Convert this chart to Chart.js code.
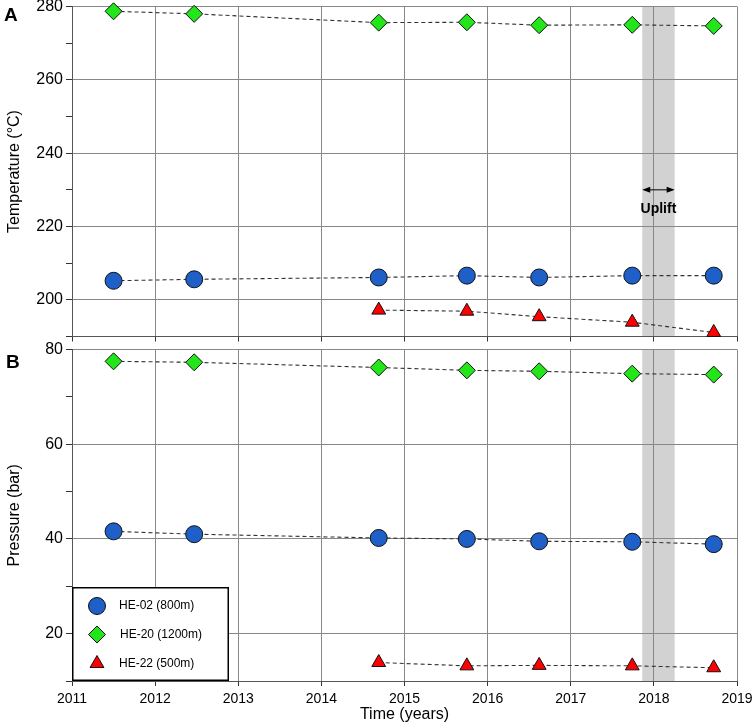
<!DOCTYPE html>
<html>
<head>
<meta charset="utf-8">
<script src="https://cdn.jsdelivr.net/npm/chart.js@4.4.1/dist/chart.umd.min.js"></script>
<style>
  body { margin: 0; background: #fff; font-family: "Liberation Sans", Arial, sans-serif; }
  #wrap { position: relative; width: 754px; height: 728px; overflow: hidden; }
  .panel { position: absolute; left: 0; width: 754px; }
  #boxA { top: -3px; height: 349px; }
  #boxB { top: 340px; height: 388px; }
  .tag { position: absolute; font-weight: bold; font-size: 19px; line-height: 1; }
</style>
</head>
<body>
<div id="wrap">
  <div class="panel" id="boxA"><canvas id="chartA"></canvas></div>
  <div class="panel" id="boxB"><canvas id="chartB"></canvas></div>
  <div class="tag" style="left:4px; top:5px;">A</div>
  <div class="tag" style="left:6px; top:352px;">B</div>
</div>
<script>
// sampling dates (decimal years)
const years = [2011.5, 2012.47, 2014.69, 2015.75, 2016.62, 2017.74, 2018.72];

// temperature (°C)
const he02Temp = [205.2, 205.6, 206.1, 206.6, 206.1, 206.6, 206.6];
const he20Temp = [278.7, 278.0, 275.6, 275.7, 274.9, 275.0, 274.7];
const he22Temp = [null, null, 197.2, 196.9, 195.4, 193.9, 191.1];

// pressure (bar)
const he02Pres = [41.6, 41.0, 40.2, 40.0, 39.5, 39.4, 38.9];
const he20Pres = [77.5, 77.3, 76.2, 75.6, 75.4, 74.9, 74.7];
const he22Pres = [null, null, 13.9, 13.2, 13.3, 13.2, 12.8];

const wellNames = ['HE-02 (800m)', 'HE-20 (1200m)', 'HE-22 (500m)'];
const yearRange = [2011, 2019];
const tempRange = [190, 280];
const presRange = [10, 80];
const upliftBand = [2017.86, 2018.25];
const upliftArrowTemp = 230;
const upliftTextTemp = 224.8;

const wellStyles = [
  { pointStyle: 'circle', color: '#1f5fc8', radius: 8.5 },
  { pointStyle: 'rectRot', color: '#22e61a', radius: 8.5 },
  { pointStyle: 'triangle', color: '#ff0000', radius: 8 }
];

function toPoints(vals) {
  const pts = [];
  for (let i = 0; i < vals.length; i++) {
    if (vals[i] !== null) pts.push({ x: years[i], y: vals[i] });
  }
  return pts;
}

function makeDataset(i, vals) {
  const s = wellStyles[i];
  return {
    label: wellNames[i],
    data: toPoints(vals),
    showLine: true,
    borderColor: '#333',
    borderWidth: 1.1,
    borderDash: [4, 3],
    pointStyle: s.pointStyle,
    pointRadius: s.radius,
    pointHoverRadius: s.radius,
    pointBackgroundColor: s.color,
    pointBorderColor: '#111',
    pointBorderWidth: 1,
    clip: false
  };
}

function xScale(showLabels) {
  return {
    type: 'linear',
    min: yearRange[0], max: yearRange[1],
    ticks: { stepSize: 1, display: showLabels, color: '#000', font: { size: 14 }, padding: 5,
             callback: v => String(v) },
    grid: { color: '#888', tickColor: '#333', tickLength: 5 },
    border: { color: '#555' },
    title: { display: showLabels, text: 'Time (years)', color: '#000', font: { size: 16 },
             padding: { top: 0, bottom: 4 } },
    afterFit: s => { s.height = showLabels ? 47 : 8; s.paddingLeft = 0; s.paddingRight = 0; }
  };
}

function yScale(range, title) {
  return {
    type: 'linear',
    min: range[0], max: range[1],
    ticks: { stepSize: 10, color: '#000', font: { size: 16 }, padding: 3,
             callback: v => (v % 20 === 0 ? String(v) : '') },
    grid: { color: c => (c.tick && c.tick.value % 20 === 0 ? '#888' : 'rgba(0,0,0,0)'),
            tickColor: '#333', tickLength: 6 },
    border: { color: '#555' },
    title: { display: true, text: title, color: '#000', font: { size: 16 },
             padding: { top: 5, bottom: 0 } },
    afterFit: s => { s.width = 72; s.paddingTop = 0; s.paddingBottom = 0; }
  };
}

// grey uplift period, drawn under the grid
const bandPlugin = {
  id: 'band',
  beforeDraw(chart) {
    const { ctx, chartArea, scales } = chart;
    const x0 = scales.x.getPixelForValue(upliftBand[0]);
    const x1 = scales.x.getPixelForValue(upliftBand[1]);
    ctx.save();
    ctx.fillStyle = '#d2d2d2';
    ctx.fillRect(x0, chartArea.top, x1 - x0, chartArea.bottom - chartArea.top);
    ctx.restore();
  }
};

const upliftPlugin = {
  id: 'uplift',
  afterDatasetsDraw(chart) {
    const { ctx, scales } = chart;
    const x0 = scales.x.getPixelForValue(upliftBand[0]);
    const x1 = scales.x.getPixelForValue(upliftBand[1]);
    const y = scales.y.getPixelForValue(upliftArrowTemp);
    ctx.save();
    ctx.strokeStyle = '#000';
    ctx.fillStyle = '#000';
    ctx.lineWidth = 1;
    ctx.beginPath();
    ctx.moveTo(x0 + 2, y);
    ctx.lineTo(x1 - 2, y);
    ctx.stroke();
    ctx.beginPath();
    ctx.moveTo(x0, y); ctx.lineTo(x0 + 8, y - 3); ctx.lineTo(x0 + 8, y + 3); ctx.closePath();
    ctx.moveTo(x1, y); ctx.lineTo(x1 - 8, y - 3); ctx.lineTo(x1 - 8, y + 3); ctx.closePath();
    ctx.fill();
    ctx.font = 'bold 14px "Liberation Sans", Arial, sans-serif';
    ctx.textAlign = 'center';
    ctx.textBaseline = 'middle';
    ctx.fillText('Uplift', (x0 + x1) / 2, scales.y.getPixelForValue(upliftTextTemp));
    ctx.restore();
  }
};

// boxed legend in the lower-left corner of panel B
const legendPlugin = {
  id: 'boxLegend',
  afterDatasetsDraw(chart) {
    const { ctx, chartArea } = chart;
    const w = 157, h = 94;
    const left = chartArea.left, top = chartArea.bottom - h;
    ctx.save();
    ctx.fillStyle = '#fff';
    ctx.fillRect(left, top, w, h);
    ctx.strokeStyle = '#000';
    ctx.lineWidth = 1.5;
    ctx.strokeRect(left + 0.75, top + 0.75, w - 1.5, h - 1.5);
    const rows = [19, 47.5, 76.5];
    ctx.font = '12px "Liberation Sans", Arial, sans-serif';
    ctx.textBaseline = 'middle';
    for (let i = 0; i < wellNames.length; i++) {
      const s = wellStyles[i];
      const cy = top + rows[i];
      ctx.fillStyle = s.color;
      ctx.strokeStyle = '#111';
      ctx.lineWidth = 1;
      Chart.helpers.drawPoint(ctx, { pointStyle: s.pointStyle, radius: s.radius, rotation: 0, borderWidth: 1 },
                              left + 25, cy);
      ctx.fillStyle = '#000';
      ctx.fillText(wellNames[i], left + (i === 1 ? 48 : 47), cy);
    }
    ctx.restore();
  }
};

Chart.defaults.font.family = '"Liberation Sans", Arial, sans-serif';

new Chart(document.getElementById('chartA'), {
  type: 'scatter',
  data: { datasets: [makeDataset(0, he02Temp), makeDataset(1, he20Temp), makeDataset(2, he22Temp)] },
  options: {
    responsive: true, maintainAspectRatio: false, animation: false,
    layout: { padding: { top: 0, right: 17, left: 0, bottom: 0 } },
    plugins: { legend: { display: false }, tooltip: { enabled: false } },
    scales: { x: xScale(false), y: yScale(tempRange, 'Temperature (°C)') }
  },
  plugins: [bandPlugin, upliftPlugin]
});

new Chart(document.getElementById('chartB'), {
  type: 'scatter',
  data: { datasets: [makeDataset(0, he02Pres), makeDataset(1, he20Pres), makeDataset(2, he22Pres)] },
  options: {
    responsive: true, maintainAspectRatio: false, animation: false,
    layout: { padding: { top: 9, right: 17, left: 0, bottom: 0 } },
    plugins: { legend: { display: false }, tooltip: { enabled: false } },
    scales: { x: xScale(true), y: yScale(presRange, 'Pressure (bar)') }
  },
  plugins: [bandPlugin, legendPlugin]
});
</script>
</body>
</html>
